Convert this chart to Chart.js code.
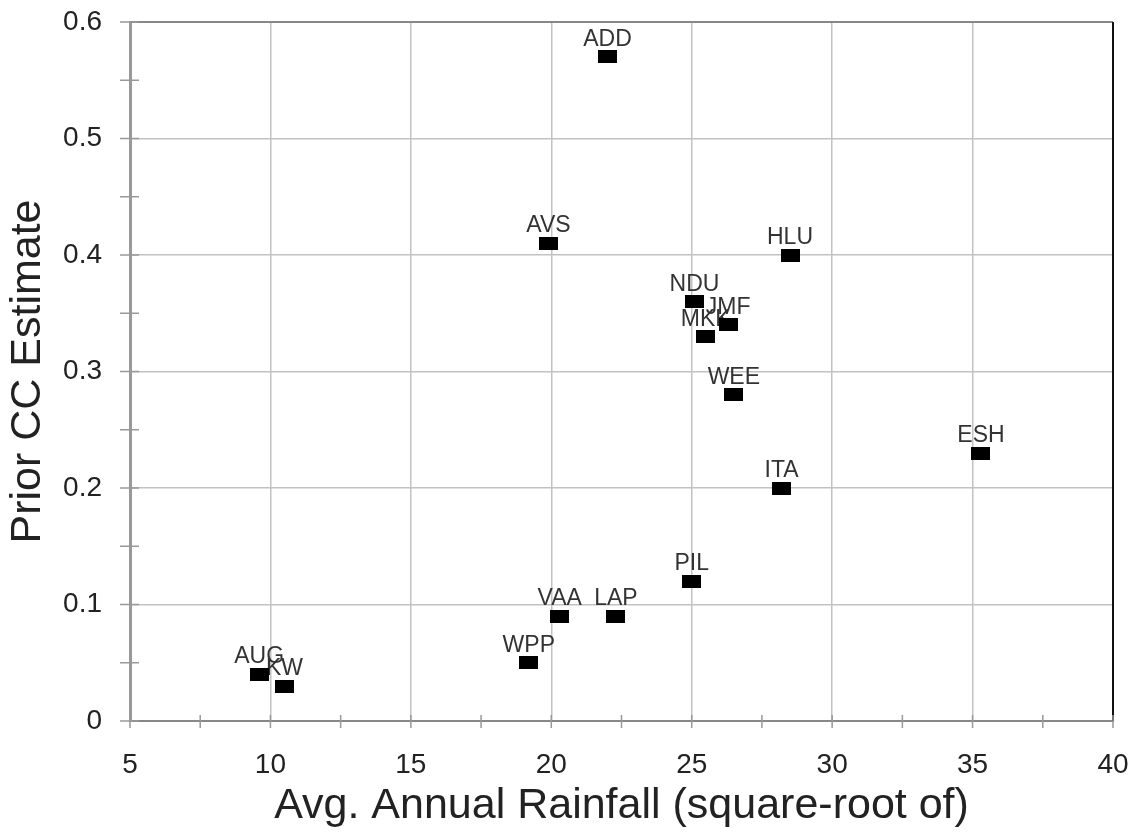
<!DOCTYPE html>
<html>
<head>
<meta charset="utf-8">
<script src="https://cdn.jsdelivr.net/npm/chart.js@4.4.0/dist/chart.umd.min.js"></script>
<style>
  html, body { margin: 0; padding: 0; background: #fff; }
  #wrap { width: 1131px; height: 834px; }
</style>
</head>
<body>
<div id="wrap"><canvas id="c" width="1131" height="834"></canvas></div>
<script>
// sites, rainfall (sqrt) and prior CC estimate
const siteLabels = ['ADD', 'AVS', 'HLU', 'NDU', 'JMF', 'MKK', 'WEE', 'ESH', 'ITA', 'PIL', 'VAA', 'LAP', 'WPP', 'AUG', 'KW'];
const rainfall   = [22.0, 19.9, 28.5, 25.1, 26.3, 25.5, 26.5, 35.3, 28.2, 25.0, 20.3, 22.3, 19.2, 9.6, 10.5];
const priorCC    = [0.57, 0.41, 0.40, 0.36, 0.34, 0.33, 0.28, 0.23, 0.20, 0.12, 0.09, 0.09, 0.05, 0.04, 0.03];

const xTitle = 'Avg. Annual Rainfall (square-root of)';
const yTitle = 'Prior CC Estimate';

const FONT = '"Liberation Sans", Arial, sans-serif';

// black rectangle marker, a bit wider than tall
const marker = document.createElement('canvas');
marker.width = 19;
marker.height = 13;
const mctx = marker.getContext('2d');
mctx.fillStyle = '#000';
mctx.fillRect(0, 0, 19, 13);

const isMajorX = v => Math.abs(v / 5 - Math.round(v / 5)) < 1e-6;
const isMajorY = v => Math.round(v * 100) % 10 === 0;

// site names above each marker (drawn before the markers so they cover the text)
const pointLabels = {
  id: 'pointLabels',
  beforeDatasetsDraw(chart) {
    const ctx = chart.ctx;
    const meta = chart.getDatasetMeta(0);
    ctx.save();
    ctx.font = '23px ' + FONT;
    ctx.fillStyle = '#333';
    ctx.textAlign = 'center';
    ctx.textBaseline = 'alphabetic';
    meta.data.forEach((pt, i) => {
      ctx.fillText(siteLabels[i], pt.x, pt.y - 11);
    });
    ctx.restore();
  }
};

// frame and tick marks that cross the axes
const frame = {
  id: 'frame',
  afterDraw(chart) {
    const ctx = chart.ctx;
    const a = chart.chartArea;
    const xs = chart.scales.x, ys = chart.scales.y;
    ctx.save();
    ctx.lineWidth = 2;
    ctx.strokeStyle = '#888';
    ctx.beginPath();
    ctx.moveTo(a.left, a.top);
    ctx.lineTo(a.right, a.top);
    ctx.stroke();
    ctx.strokeStyle = '#111';
    ctx.beginPath();
    ctx.moveTo(a.right, a.top);
    ctx.lineTo(a.right, a.bottom);
    ctx.stroke();

    ctx.strokeStyle = '#999';
    ctx.lineWidth = 1.5;
    xs.ticks.forEach(t => {
      const px = xs.getPixelForValue(t.value);
      ctx.beginPath();
      ctx.moveTo(px, a.bottom - 6);
      ctx.lineTo(px, a.bottom + 7);
      ctx.stroke();
    });
    ys.ticks.forEach(t => {
      const py = ys.getPixelForValue(t.value);
      ctx.beginPath();
      ctx.moveTo(a.left - 10, py);
      ctx.lineTo(a.left + 9, py);
      ctx.stroke();
    });
    ctx.restore();
  }
};

new Chart(document.getElementById('c'), {
  type: 'scatter',
  data: {
    datasets: [{
      data: rainfall.map((x, i) => ({ x: x, y: priorCC[i] })),
      pointStyle: marker,
      backgroundColor: '#000',
      borderColor: '#000'
    }]
  },
  options: {
    responsive: false,
    animation: false,
    layout: { padding: { top: 22, right: 18, left: 0, bottom: 0 } },
    plugins: {
      legend: { display: false },
      tooltip: { enabled: false }
    },
    scales: {
      x: {
        min: 5,
        max: 40,
        afterFit: s => { s.height = 113; s.paddingLeft = 0; s.paddingRight = 0; },
        border: { color: '#888', width: 2 },
        grid: {
          drawTicks: false,
          lineWidth: 1.5,
          color: c => (c.tick && isMajorX(c.tick.value)) ? '#c2c2c2' : 'rgba(0,0,0,0)'
        },
        ticks: {
          stepSize: 2.5,
          autoSkip: false,
          maxRotation: 0,
          padding: 27,
          color: '#222',
          font: { family: FONT, size: 28 },
          callback: v => isMajorX(v) ? String(Math.round(v)) : ''
        },
        title: {
          display: true,
          text: xTitle,
          color: '#222',
          font: { family: FONT, size: 43 },
          padding: { top: 0, bottom: 2 }
        }
      },
      y: {
        min: 0,
        max: 0.6,
        afterFit: s => { s.width = 130; s.paddingTop = 0; s.paddingBottom = 0; },
        border: { color: '#999', width: 3 },
        grid: {
          drawTicks: false,
          lineWidth: 1.5,
          color: c => (c.tick && isMajorY(c.tick.value)) ? '#c2c2c2' : 'rgba(0,0,0,0)'
        },
        ticks: {
          stepSize: 0.05,
          autoSkip: false,
          padding: 28,
          color: '#222',
          font: { family: FONT, size: 28 },
          callback: v => isMajorY(v) ? String(Math.round(v * 100) / 100) : ''
        },
        title: {
          display: true,
          text: yTitle,
          color: '#222',
          font: { family: FONT, size: 43 },
          padding: { top: 2, bottom: 0 }
        }
      }
    }
  },
  plugins: [pointLabels, frame]
});
</script>
</body>
</html>
